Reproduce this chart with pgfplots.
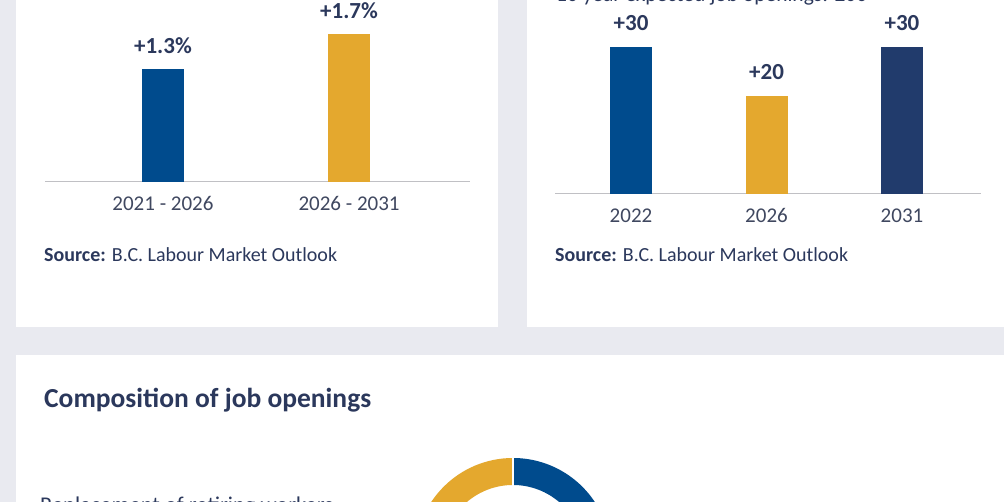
\documentclass[border=0pt]{standalone}
\usepackage{pgfplots}
\usepackage{pgfplotstable}
\pgfplotsset{compat=1.18}
\usepackage{fontspec}
\setmainfont{Carlito}
\definecolor{bcblue}{RGB}{0,75,141}
\definecolor{bcgold}{RGB}{228,168,46}
\definecolor{bcnavy}{RGB}{33,59,108}
\definecolor{txtnavy}{RGB}{43,56,92}
\definecolor{ticktxt}{RGB}{64,72,96}
\definecolor{bggray}{RGB}{233,234,240}
\definecolor{axgray}{RGB}{192,192,196}

\pgfplotstableread{
share
0.72
0.28
}\comp

\pgfplotsset{
  barpanel/.style={
    scale only axis,
    axis x line*=bottom,
    axis y line=none,
    x axis line style={draw=axgray, line width=1pt},
    ytick=\empty,
    major tick length=0pt,
    ymin=0,
    ybar, bar width=42pt, bar shift=0pt,
    clip=false,
    enlargelimits=false,
    /pgf/number format/assume math mode=true,
    xticklabel style={font=\fontsize{21}{25}\selectfont, text=ticktxt, anchor=north, yshift=-11pt},
  },
  lbl/.style={every node near coord/.append style={font=\bfseries\fontsize{23}{26}\selectfont, text=txtnavy, anchor=base, yshift=16pt}},
}

\begin{document}
\begin{tikzpicture}
\begin{scope}
\clip (0pt,0pt) rectangle (1004pt,502pt);
\fill[bggray] (0pt,0pt) rectangle (1004pt,502pt);
\fill[white] (16pt,175pt) rectangle (498pt,510pt);
\fill[white] (527pt,175pt) rectangle (1010pt,510pt);
\fill[white] (16pt,-10pt) rectangle (1010pt,147pt);

% left chart
\begin{axis}[barpanel,
  at={(45pt,320pt)}, anchor=south west,
  width=425pt, height=173.6pt,
  xmin=-0.634, xmax=1.65, ymax=2.0,
  xtick={0,1}, xticklabels={2021 - 2026, 2026 - 2031}]
\addplot[fill=bcblue, draw=none, lbl,
  nodes near coords={+\pgfmathprintnumber[fixed,precision=1,fixed zerofill]{\pgfplotspointmeta}\%}]
  coordinates {(0,1.3)};
\addplot[fill=bcgold, draw=none, lbl,
  nodes near coords={+\pgfmathprintnumber[fixed,precision=1,fixed zerofill]{\pgfplotspointmeta}\%}]
  coordinates {(1,1.7)};
\end{axis}

% right chart
\begin{axis}[barpanel,
  at={(555pt,308pt)}, anchor=south west,
  width=426pt, height=220.5pt,
  xmin=-0.561, xmax=2.583, ymax=45,
  xtick={0,1,2}, xticklabels={2022, 2026, 2031}]
\addplot[fill=bcblue, draw=none, lbl,
  nodes near coords={+\pgfmathprintnumber{\pgfplotspointmeta}}]
  coordinates {(0,30)};
\addplot[fill=bcgold, draw=none, lbl,
  nodes near coords={+\pgfmathprintnumber{\pgfplotspointmeta}}]
  coordinates {(1,20)};
\addplot[fill=bcnavy, draw=none, lbl,
  nodes near coords={+\pgfmathprintnumber{\pgfplotspointmeta}}]
  coordinates {(2,30)};
\end{axis}

% texts
\node[anchor=base west, inner sep=0, text=txtnavy, font=\fontsize{20}{24}\selectfont] at (44pt,240pt) {\textbf{Source:} B.C. Labour Market Outlook};
\node[anchor=base west, inner sep=0, text=txtnavy, font=\fontsize{20}{24}\selectfont] at (555pt,240pt) {\textbf{Source:} B.C. Labour Market Outlook};
\node[anchor=base west, inner sep=0, text=txtnavy, font=\fontsize{21.5}{25}\selectfont] at (556pt,500pt) {10 year expected job openings: 200};
\node[anchor=base west, inner sep=0, text=txtnavy, font=\bfseries\fontsize{27.5}{32}\selectfont] at (44pt,94pt) {Composition of job openings};
\node[anchor=base west, inner sep=0, text=txtnavy, font=\fontsize{22.5}{26}\selectfont] at (40pt,-11pt) {Replacement of retiring workers};

% donut
\pgfplotstablegetelem{0}{share}\of\comp \pgfmathsetmacro\ga{90+360*\pgfplotsretval}
\pgfplotstablegetelem{1}{share}\of\comp \pgfmathsetmacro\gb{90-360*\pgfplotsretval}
\begin{axis}[at={(415pt,-152pt)}, anchor=south west, scale only axis,
  x=1pt, y=1pt, xmin=-98, xmax=98, ymin=-98, ymax=98, hide axis, clip=false]
\fill[bcgold] (axis cs:0,0) ++(90:98pt) arc[start angle=90, end angle=\ga, radius=98pt] -- ++(\ga:-27pt) arc[start angle=\ga, end angle=90, radius=71pt] -- cycle;
\fill[bcblue] (axis cs:0,0) ++(90:98pt) arc[start angle=90, end angle=\gb, radius=98pt] -- ++(\gb:-27pt) arc[start angle=\gb, end angle=90, radius=71pt] -- cycle;
\draw[white, line width=1.2pt] (axis cs:0,0) ++(90:70pt) -- ++(90:29pt);
\end{axis}
\end{scope}
\pgfresetboundingbox
\path[use as bounding box] (0pt,0pt) rectangle (1004pt,502pt);
\end{tikzpicture}
\end{document}
